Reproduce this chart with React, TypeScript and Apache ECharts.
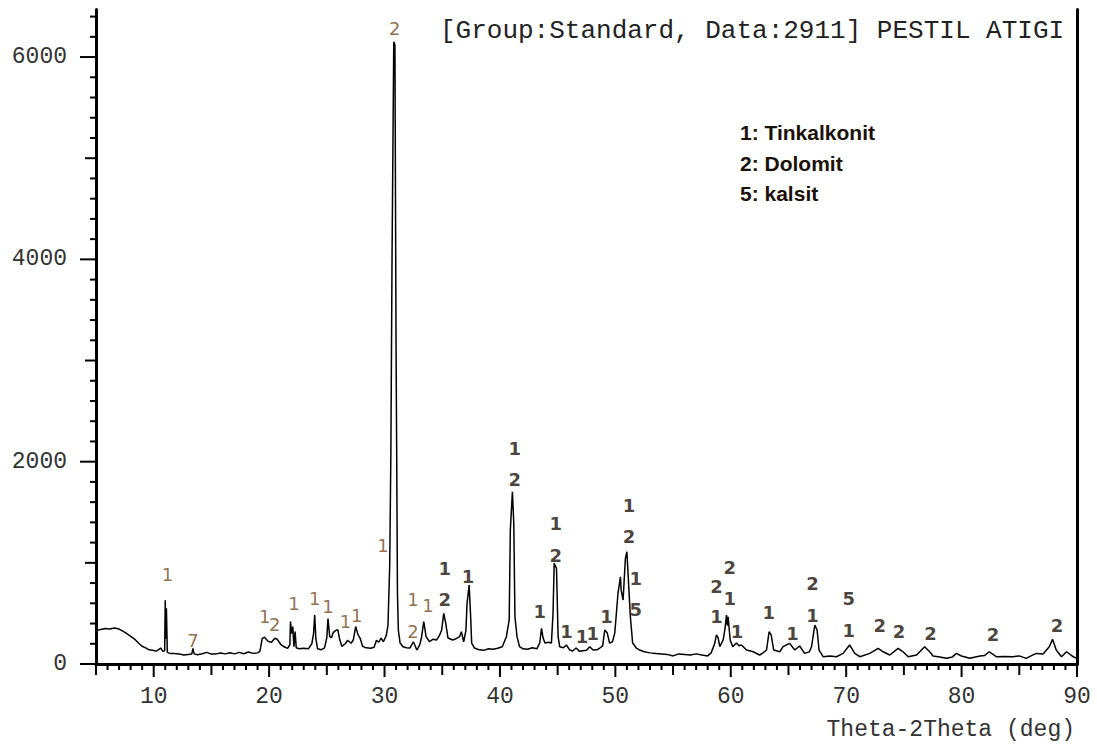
import React, { useEffect, useRef } from "react";
import * as echarts from "echarts";

// 2-theta (deg) vs counts
const pattern: [number, number][] = [
  [5.0, 330], [5.4, 340], [5.8, 350], [6.2, 345], [6.6, 355], [7.0, 345], [7.4, 320], [7.8, 290],
  [8.1, 265], [8.4, 240], [8.7, 205], [9.0, 175], [9.3, 160], [9.6, 140], [9.9, 135], [10.2, 128],
  [10.4, 140], [10.6, 158], [10.8, 125], [10.95, 130], [11.0, 630], [11.05, 250], [11.1, 550],
  [11.18, 115], [11.4, 105], [11.8, 103], [12.2, 100], [12.6, 88], [13.0, 95], [13.3, 100],
  [13.4, 155], [13.5, 100], [13.8, 92], [14.2, 102], [14.6, 115], [15.0, 98], [15.4, 100],
  [15.8, 108], [16.2, 100], [16.6, 112], [17.0, 100], [17.4, 115], [17.8, 102], [18.2, 118],
  [18.6, 105], [19.0, 110], [19.2, 125], [19.4, 250], [19.6, 265], [19.9, 225], [20.2, 215],
  [20.5, 255], [20.7, 245], [21.0, 195], [21.3, 170], [21.6, 155], [21.8, 190], [21.85, 420],
  [21.95, 300], [22.05, 370], [22.15, 170], [22.25, 320], [22.35, 160], [22.6, 150], [23.0, 155],
  [23.4, 150], [23.7, 200], [23.85, 300], [23.95, 485], [24.05, 250], [24.2, 150], [24.5, 140],
  [24.8, 160], [25.0, 260], [25.1, 450], [25.25, 270], [25.4, 260], [25.55, 310], [25.75, 330],
  [25.95, 340], [26.1, 250], [26.3, 175], [26.6, 200], [26.8, 235], [27.1, 205], [27.3, 240],
  [27.5, 370], [27.7, 290], [27.9, 250], [28.1, 175], [28.4, 160], [28.8, 155], [29.1, 165],
  [29.3, 235], [29.5, 215], [29.7, 255], [29.9, 220], [30.15, 280], [30.3, 385], [30.45, 980],
  [30.55, 2100], [30.65, 4000], [30.8, 6150], [30.9, 6120], [31.0, 3100], [31.05, 2160],
  [31.12, 700], [31.2, 330], [31.35, 207], [31.6, 171], [31.9, 160], [32.2, 158], [32.5, 220],
  [32.8, 138], [33.05, 188], [33.2, 260], [33.4, 418], [33.6, 270], [33.9, 220], [34.2, 245],
  [34.5, 237], [34.75, 280], [34.95, 336], [35.13, 500], [35.3, 405], [35.5, 257], [35.9, 237],
  [36.2, 250], [36.5, 270], [36.66, 319], [36.86, 220], [37.05, 330], [37.15, 600], [37.33, 780],
  [37.45, 500], [37.55, 207], [37.8, 158], [38.2, 140], [38.6, 135], [39.0, 150], [39.4, 145],
  [39.8, 155], [40.2, 170], [40.56, 270], [40.8, 435], [40.9, 1324], [41.08, 1702], [41.2, 1390],
  [41.3, 467], [41.48, 270], [41.7, 171], [42.0, 150], [42.4, 145], [42.8, 160], [43.2, 150],
  [43.45, 210], [43.6, 352], [43.74, 257], [43.9, 207], [44.2, 215], [44.46, 207], [44.6, 500],
  [44.7, 995], [44.9, 945], [45.04, 270], [45.18, 171], [45.5, 160], [45.76, 188], [46.05, 138],
  [46.3, 128], [46.6, 158], [46.9, 125], [47.2, 130], [47.5, 135], [47.78, 171], [48.07, 138],
  [48.4, 140], [48.65, 158], [48.9, 180], [49.08, 336], [49.3, 306], [49.5, 207], [49.75, 220],
  [49.95, 306], [50.23, 700], [50.44, 862], [50.5, 730], [50.67, 632], [50.87, 1044], [51.0, 1110],
  [51.13, 830], [51.3, 467], [51.5, 207], [51.8, 160], [52.1, 138], [52.5, 121], [53.0, 110],
  [53.5, 105], [54.0, 100], [54.5, 95], [55.0, 80], [55.5, 100], [56.0, 95], [56.5, 90],
  [57.0, 100], [57.5, 88], [58.0, 80], [58.3, 110], [58.6, 200], [58.76, 287], [58.9, 260],
  [59.05, 171], [59.34, 237], [59.5, 350], [59.63, 484], [59.7, 380], [59.77, 467], [59.95, 237],
  [60.17, 171], [60.49, 207], [60.7, 180], [60.93, 188], [61.36, 138], [61.94, 121], [62.5, 89],
  [62.8, 110], [63.1, 138], [63.32, 319], [63.5, 287], [63.72, 138], [64.25, 121], [64.53, 171],
  [65.1, 204], [65.55, 138], [65.97, 178], [66.4, 105], [66.8, 120], [67.0, 171], [67.28, 385],
  [67.48, 336], [67.65, 138], [68.0, 72], [68.6, 80], [69.16, 72], [69.73, 105], [70.3, 188],
  [70.75, 105], [71.18, 72], [72.05, 105], [72.77, 155], [73.2, 121], [73.78, 89], [74.5, 155],
  [74.93, 121], [75.37, 72], [76.1, 89], [76.8, 171], [77.24, 121], [77.53, 79], [78.1, 70],
  [78.7, 56], [79.2, 70], [79.55, 105], [79.99, 79], [80.7, 56], [81.6, 79], [82.0, 85],
  [82.4, 121], [83.0, 72], [83.7, 75], [84.45, 72], [85.0, 80], [85.6, 56], [86.1, 85],
  [86.5, 105], [87.06, 99], [87.6, 171], [87.88, 244], [88.2, 138], [88.66, 72], [89.09, 121],
  [89.66, 72], [90.0, 56],
];

// peak annotations: [2theta, counts, phase number]
const lightLabels: [number, number, string][] = [
  [11.19, 880, "1"], [13.41, 237, "7"], [19.62, 467, "1"], [20.49, 395, "2"], [22.16, 603, "1"],
  [23.95, 652, "1"], [25.1, 566, "1"], [26.62, 425, "1"], [27.58, 484, "1"], [29.87, 1176, "1"],
  [30.88, 6286, "2"], [32.47, 633, "1"], [32.47, 319, "2"], [33.77, 583, "1"],
];
const boldLabels: [number, number, string][] = [
  [35.22, 946, "1"], [35.22, 633, "2"], [37.24, 863, "1"], [41.28, 2132, "1"], [41.28, 1819, "2"],
  [43.45, 517, "1"], [44.84, 1391, "1"], [44.84, 1077, "2"], [45.76, 319, "1"], [47.12, 270, "1"],
  [48.05, 303, "1"], [49.23, 467, "1"], [51.19, 1562, "1"], [51.19, 1258, "2"], [51.77, 847, "1"],
  [51.77, 534, "5"], [58.76, 764, "2"], [58.76, 467, "1"], [59.91, 956, "2"], [59.91, 649, "1"],
  [60.55, 319, "1"], [63.29, 507, "1"], [65.35, 303, "1"], [67.08, 798, "2"], [67.08, 484, "1"],
  [70.23, 649, "5"], [70.23, 336, "1"], [72.91, 376, "2"], [74.58, 319, "2"], [77.3, 303, "2"],
  [82.73, 287, "2"], [88.27, 385, "2"],
];

const legendLines = ["1: Tinkalkonit", "2: Dolomit", "5: kalsit"];
const titleText = "[Group:Standard, Data:2911] PESTIL ATIGI";
const xAxisTitle = "Theta-2Theta (deg)";
const yTickLabels = [0, 2000, 4000, 6000];

const X_MIN = 5;
const X_MAX = 90;
const Y_MIN = 0;
const Y_MAX = 6470;

export default function App() {
  const ref = useRef<HTMLDivElement>(null);
  useEffect(() => {
    const chart = echarts.init(ref.current as HTMLDivElement, null, { renderer: "svg" });
    const ticks: number[][] = [];
    for (let v = X_MIN; v <= X_MAX; v++) ticks.push([0, v]);
    for (let v = Y_MIN; v <= 6400; v += 200) ticks.push([1, v]);

    const mono = "Liberation Mono";
    const frameLine = { show: true, lineStyle: { color: "#000", width: 3 } };
    const labelSeries = (arr: [number, number, string][], bold: boolean) => ({
      type: "scatter",
      symbolSize: 1,
      itemStyle: { color: "transparent" },
      silent: true,
      z: 5,
      data: arr.map((d) => ({ value: [d[0], d[1]], name: d[2] })),
      label: {
        show: true,
        position: "inside",
        formatter: "{b}",
        fontFamily: "DejaVu Sans",
        fontSize: 18,
        fontWeight: bold ? "bold" : "normal",
        color: bold ? "#1a120a" : "#7a4a1e",
      },
    });

    chart.setOption({
      animation: false,
      backgroundColor: "#ffffff",
      grid: { left: 96, right: 20, top: 9.5, bottom: 85, show: false },
      xAxis: [
        {
          type: "value",
          min: X_MIN,
          max: X_MAX,
          interval: 5,
          axisLine: frameLine,
          axisTick: { show: false },
          splitLine: { show: false },
          axisLabel: {
            margin: 21,
            fontFamily: mono,
            fontSize: 23,
            color: "#333",
            formatter: (v: number) => (v % 10 === 0 ? String(v) : ""),
          },
        },
        {
          type: "value",
          position: "top",
          min: X_MIN,
          max: X_MAX,
          interval: 5,
          axisLine: frameLine,
          axisTick: { show: false },
          axisLabel: { show: false },
          splitLine: { show: false },
        },
      ],
      yAxis: [
        {
          type: "value",
          min: Y_MIN,
          max: Y_MAX,
          interval: 2000,
          axisLine: frameLine,
          axisTick: { show: false },
          splitLine: { show: false },
          axisLabel: {
            margin: 29,
            fontFamily: mono,
            fontSize: 23,
            color: "#333",
            showMaxLabel: false,
            formatter: (v: number) => (yTickLabels.indexOf(v) >= 0 ? String(v) : ""),
          },
        },
        {
          type: "value",
          position: "right",
          min: Y_MIN,
          max: Y_MAX,
          interval: 2000,
          axisLine: frameLine,
          axisTick: { show: false },
          axisLabel: { show: false },
          splitLine: { show: false },
        },
      ],
      series: [
        {
          type: "line",
          data: pattern,
          showSymbol: false,
          symbol: "none",
          lineStyle: { color: "#000", width: 1.5 },
          z: 3,
          silent: true,
        },
        {
          type: "custom",
          clip: false,
          silent: true,
          z: 4,
          data: ticks,
          renderItem: (params: any, api: any) => {
            const which = api.value(0);
            const v = api.value(1);
            if (which === 0) {
              const p = api.coord([v, Y_MIN]);
              const len = v % 10 === 0 ? 13 : v % 5 === 0 ? 11 : 6;
              return {
                type: "line",
                shape: { x1: p[0], y1: p[1], x2: p[0], y2: p[1] + len },
                style: { stroke: "#000", lineWidth: 2 },
              };
            }
            const p = api.coord([X_MIN, v]);
            const len = v % 2000 === 0 ? 16 : v % 1000 === 0 ? 11 : 6;
            return {
              type: "line",
              shape: { x1: p[0] - len, y1: p[1], x2: p[0], y2: p[1] },
              style: { stroke: "#000", lineWidth: 2 },
            };
          },
        },
        labelSeries(lightLabels, false),
        labelSeries(boldLabels, true),
      ],
      graphic: [
        {
          type: "text",
          x: 440,
          y: 31,
          style: {
            text: titleText,
            font: `26px "${mono}"`,
            fill: "#222",
            textAlign: "left",
            textVerticalAlign: "middle",
          },
        },
        {
          type: "text",
          x: 1075,
          y: 730,
          style: {
            text: xAxisTitle,
            font: `23px "${mono}"`,
            fill: "#333",
            textAlign: "right",
            textVerticalAlign: "middle",
          },
        },
        ...legendLines.map((t, i) => ({
          type: "text",
          x: 740,
          y: [132, 163, 193][i],
          style: {
            text: t,
            font: `bold 21px "Liberation Sans"`,
            fill: "#1a120a",
            textAlign: "left",
            textVerticalAlign: "middle",
          },
        })),
      ],
    });
    return () => chart.dispose();
  }, []);
  return (
    <div
      ref={ref}
      style={{ position: "absolute", left: 0, top: 0, width: 1097, height: 749, background: "#fff" }}
    />
  );
}
